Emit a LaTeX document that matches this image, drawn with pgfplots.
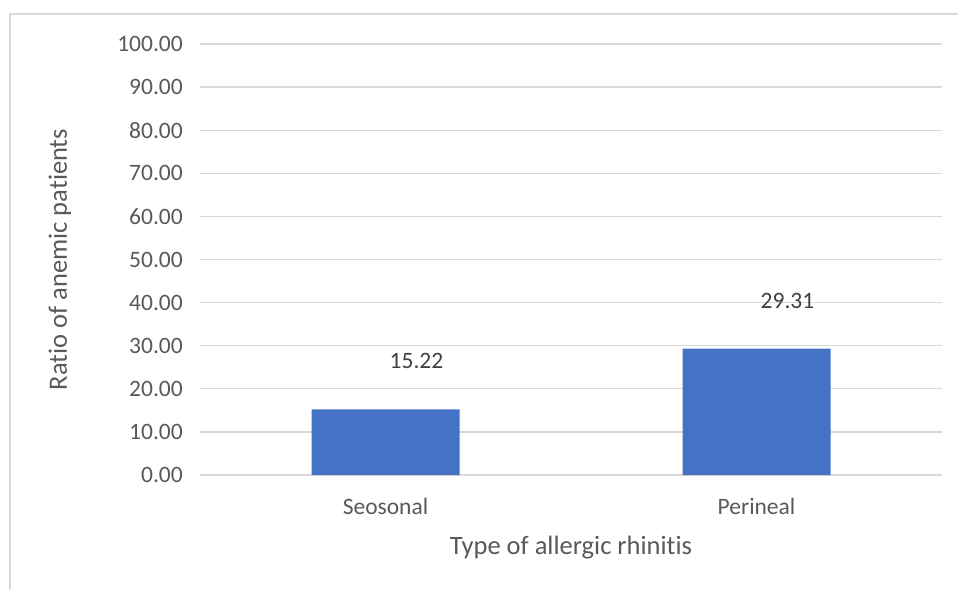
\documentclass[border=0pt]{standalone}
\usepackage{pgfplots}
\pgfplotsset{compat=1.18}
\usepackage{fontspec}
\setmainfont[Ligatures=NoCommon]{Carlito}
\definecolor{barblue}{HTML}{4472C4}
\definecolor{gridgray}{HTML}{D9D9D9}
\definecolor{ticktext}{HTML}{595959}
\definecolor{valtext}{HTML}{404040}
\begin{document}
\begin{tikzpicture}[x=1pt,y=1pt]
\useasboundingbox (0,0) rectangle (958,590);
\draw[gridgray, line width=1.5pt] (10,0) -- (10,576) -- (958,576);
\begin{axis}[
  at={(200pt,115pt)}, anchor=south west,
  width=742pt, height=431pt, scale only axis,
  xmin=-0.5, xmax=1.5, ymin=0, ymax=100,
  xtick=data, xticklabels={Seosonal,Perineal},
  ytick={0,10,...,100},
  axis line style={draw=none},
  major tick length=0pt,
  ymajorgrids, grid style={gridgray, line width=1.2pt},
  /pgf/number format/assume math mode=true,
  yticklabel style={/pgf/number format/.cd, fixed, fixed zerofill, precision=2, /tikz/.cd,
     font=\fontsize{23.5}{28}\selectfont, text=ticktext, anchor=east, inner sep=0pt, xshift=-17pt},
  xticklabel style={font=\fontsize{23.5}{28}\selectfont, text=ticktext, anchor=center, inner sep=0pt, yshift=-31pt},
  xlabel={Type of allergic rhinitis},
  ylabel={Ratio of anemic patients},
  xlabel style={font=\fontsize{26.5}{30}\selectfont, text=ticktext, at={(axis description cs:0.5,-0.169)}, anchor=center},
  ylabel style={font=\fontsize{26.5}{30}\selectfont, text=ticktext, at={(axis description cs:-0.1887,0.5)}, anchor=center},
  clip=false,
]
\addplot[ybar, bar width=148pt, fill=barblue, draw=none,
  nodes near coords, point meta=explicit symbolic,
  every node near coord/.style={font=\fontsize{23.5}{28}\selectfont, text=valtext, anchor=center, yshift=48pt, xshift=31pt}]
  coordinates {(0,15.22) [15.22] (1,29.31) [29.31]};
\end{axis}
\end{tikzpicture}
\end{document}
